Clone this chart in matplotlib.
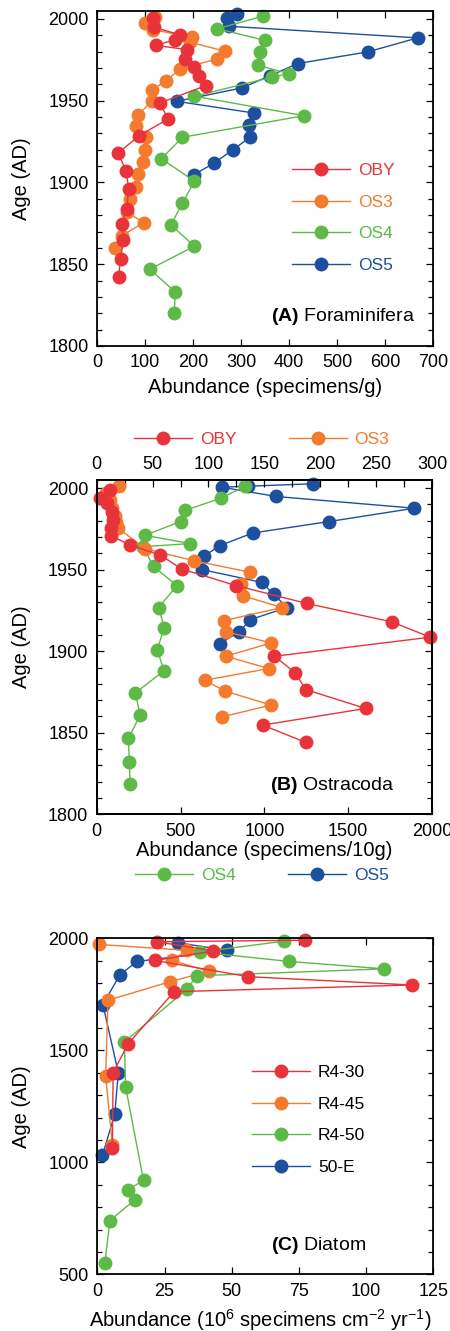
import matplotlib
matplotlib.use('Agg')
from matplotlib import pyplot as plt
from matplotlib.ticker import MultipleLocator

plt.rcParams['font.family'] = ['Liberation Sans', 'DejaVu Sans']
plt.rcParams['mathtext.fontset'] = 'custom'
plt.rcParams['mathtext.rm'] = 'Liberation Sans'
plt.rcParams['mathtext.bf'] = 'Liberation Sans:bold'
plt.rcParams['mathtext.it'] = 'Liberation Sans:italic'

RED = '#E8333A'
ORANGE = '#F47A2E'
GREEN = '#5DBA47'
BLUE = '#1D4F9F'

# ---- (A) Foraminifera, specimens/g ----
age_oby_a = [2000.6, 1994.9, 1990.3, 1987.3, 1983.8, 1981.2, 1975.6, 1970.4, 1965.0, 1959.2, 1948.6,
             1938.8, 1928.6, 1918.0, 1906.7, 1895.9, 1884.0, 1874.6, 1864.6, 1853.4, 1842.4]
oby_a = [116, 118, 173, 162, 123, 187, 184, 203, 213, 227, 131,
         148, 88, 44, 61, 66, 62, 52, 55, 49, 45]
age_os3_a = [2001.3, 1997.6, 1993.5, 1988.7, 1985.7, 1980.2, 1975.5, 1969.4, 1962.2, 1956.3, 1949.6, 1941.4,
             1934.3, 1927.6, 1920.0, 1912.2, 1905.3, 1897.5, 1889.6, 1882.0, 1875.4, 1867.4, 1860.0]
os3_a = [121, 99, 116, 198, 194, 267, 250, 173, 144, 114, 114, 86,
         82, 102, 100, 96, 86, 81, 69, 62, 97, 52, 38]
age_os4_a = [2001.6, 1994.0, 1986.9, 1979.8, 1971.6, 1966.5, 1964.3, 1952.7, 1940.8, 1927.6, 1914.5,
             1900.8, 1887.4, 1874.0, 1861.0, 1847.0, 1833.0, 1820.0]
os4_a = [345, 251, 349, 340, 336, 399, 364, 203, 431, 178, 134,
         203, 178, 154, 203, 110, 163, 161]
age_os5_a = [2002.7, 2000.6, 1995.5, 1988.4, 1979.8, 1972.7, 1965.3, 1957.8, 1949.6, 1942.4, 1935.3,
             1927.6, 1920.0, 1911.8, 1904.8]
os5_a = [291, 270, 274, 668, 564, 418, 361, 302, 166, 328, 316,
         319, 283, 244, 202]

# ---- (B) Ostracoda: OBY, OS3 on top axis; OS4, OS5 on bottom axis (specimens/10g) ----
age_oby_b = [1998.8, 1994.1, 1990.6, 1985.5, 1980.4, 1975.3, 1970.8, 1965.0, 1959.0, 1950.4,
             1940.2, 1929.3, 1918.0, 1908.6, 1896.9, 1886.9, 1876.5, 1864.9, 1854.7, 1844.1]
oby_b = [12, 3, 9, 13.5, 15, 13, 13, 30, 57, 76,
         125, 188, 264, 298.5, 159, 177.6, 187, 240.6, 148.5, 187]
age_os3_b = [2001.3, 1997.0, 1993.0, 1988.0, 1983.0, 1979.0, 1975.3, 1962.8, 1955.5, 1948.4, 1941.2,
             1934.0, 1926.8, 1918.8, 1912.0, 1905.1, 1896.9, 1889.4, 1882.2, 1875.5, 1867.0, 1859.8]
os3_b = [20, 8, 12, 14, 16, 17, 19.5, 43.5, 87, 137.4, 129,
         130.5, 166, 114, 115.5, 156, 115.5, 154, 96.6, 115, 156, 112.5]
age_os4_b = [2001.2, 1993.8, 1986.4, 1979.5, 1971.1, 1966.0, 1964.1, 1952.0, 1940.2, 1926.8, 1914.5,
             1901.0, 1888.0, 1874.5, 1860.8, 1846.5, 1831.8, 1818.6]
os4_b = [885, 740, 528, 500, 288, 558, 275, 339, 479, 369, 403,
         361, 401, 231, 259, 189, 195, 199]
age_os5_b = [2002.7, 2001.2, 2000.6, 1994.9, 1987.7, 1979.5, 1972.5, 1964.8, 1958.2, 1950.0, 1942.2,
             1935.0, 1926.8, 1919.3, 1911.9, 1904.7]
os5_b = [1291, 905, 745, 1069, 1895, 1385, 931, 735, 639, 631, 985,
         1055, 1135, 915, 851, 735]

# ---- (C) Diatom, 10^6 specimens cm-2 yr-1 ----
age_r430 = [1992, 1985, 1944, 1901.5, 1829, 1792, 1762, 1530, 1401, 1064]
r430 = [77.2, 22.2, 43.2, 21.6, 56.2, 117.0, 28.6, 11.5, 5.9, 5.6]
age_r445 = [1973, 1947, 1901.5, 1853, 1806, 1724, 1386, 1079]
r445 = [0.6, 33.3, 27.8, 41.4, 26.9, 4.0, 3.1, 5.6]
age_r450 = [1988, 1939, 1897, 1864, 1833, 1773, 1538, 1338, 919, 878, 833, 740, 549]
r450 = [69.6, 38.3, 71.4, 106.8, 37.0, 33.3, 10.1, 10.5, 17.2, 11.4, 14.0, 4.7, 2.8]
age_50e = [1980, 1947, 1897, 1838, 1704, 1401, 1215, 1031]
e50 = [30.2, 48.1, 14.8, 8.4, 2.1, 7.8, 6.5, 1.9]

W, H = 450.0, 1331.0
fig = plt.figure(figsize=(4.5, 13.31), dpi=100)

line_kw = dict(marker='o', markersize=9, linewidth=1.0, clip_on=False)
tick_fs = 13
lab_fs = 14.5
leg_fs = 12.5


def box(left, top, right, bottom):
    return [left / W, 1 - bottom / H, (right - left) / W, (bottom - top) / H]


def style(ax, top=True, bottom=True):
    for s in ax.spines.values():
        s.set_linewidth(1.3)
    ax.tick_params(which='both', direction='in', top=top, bottom=bottom, left=True, right=True,
                   labelsize=tick_fs, width=0.9)
    ax.tick_params(which='major', length=5, pad=6)
    ax.tick_params(which='minor', length=3.5)


def legend(ax, handles, labels, x, y, ncol=1, colored=True):
    lg = ax.legend(handles, labels, loc='upper left', bbox_to_anchor=(x, y), ncol=ncol,
                   frameon=False, fontsize=leg_fs, handlelength=3.35, handletextpad=0.45,
                   labelspacing=0.95, borderpad=0, borderaxespad=0, columnspacing=3.0)
    if colored:
        for t, h in zip(lg.get_texts(), handles):
            t.set_color(h.get_color())
    return lg


# panel A
axA = fig.add_axes(box(97, 10.7, 433, 346))
lb5, = axA.plot(os5_a, age_os5_a, color=BLUE, **line_kw)
lg4, = axA.plot(os4_a, age_os4_a, color=GREEN, **line_kw)
lo3, = axA.plot(os3_a, age_os3_a, color=ORANGE, **line_kw)
lr, = axA.plot(oby_a, age_oby_a, color=RED, **line_kw)
axA.set_xlim(0, 700)
axA.set_ylim(1800, 2005)
axA.xaxis.set_major_locator(MultipleLocator(100))
axA.yaxis.set_major_locator(MultipleLocator(50))
axA.yaxis.set_minor_locator(MultipleLocator(10))
style(axA)
axA.set_xlabel('Abundance (specimens/g)', fontsize=lab_fs, va='center')
axA.xaxis.set_label_coords(0.5, -0.125)
axA.set_ylabel('Age (AD)', fontsize=lab_fs, va='center')
axA.yaxis.set_label_coords(-0.224, 0.5)
legend(axA, [lr, lo3, lg4, lb5], ['OBY', 'OS3', 'OS4', 'OS5'], 0.580, 0.546)
axA.text(0.517, 0.087, r'$\mathbf{(A)}$ Foraminifera', transform=axA.transAxes,
         fontsize=14, va='center', ha='left')

# panel B
axB = fig.add_axes(box(96.7, 480, 432, 814.3))
lb5b, = axB.plot(os5_b, age_os5_b, color=BLUE, **line_kw)
lg4b, = axB.plot(os4_b, age_os4_b, color=GREEN, **line_kw)
axB.set_xlim(0, 2000)
axB.set_ylim(1800, 2005)
axB.xaxis.set_major_locator(MultipleLocator(500))
axB.yaxis.set_major_locator(MultipleLocator(50))
axB.yaxis.set_minor_locator(MultipleLocator(10))
style(axB, top=False)
axB.set_xlabel('Abundance (specimens/10g)', fontsize=lab_fs, va='center')
axB.xaxis.set_label_coords(0.5, -0.107)
axB.set_ylabel('Age (AD)', fontsize=lab_fs, va='center')
axB.yaxis.set_label_coords(-0.224, 0.5)
axBt = axB.twiny()
lo3b, = axBt.plot(os3_b, age_os3_b, color=ORANGE, **line_kw)
lrb, = axBt.plot(oby_b, age_oby_b, color=RED, **line_kw)
axBt.set_xlim(0, 300)
axBt.xaxis.set_major_locator(MultipleLocator(50))
axBt.xaxis.set_minor_locator(MultipleLocator(25))
axBt.tick_params(which='both', direction='in', top=True, bottom=False, labeltop=True,
                 labelbottom=False, labelsize=tick_fs, width=0.9)
axBt.tick_params(which='major', length=5, pad=5)
axBt.tick_params(which='minor', length=5)
for s in axBt.spines.values():
    s.set_linewidth(1.3)
legend(axBt, [lrb, lo3b], ['OBY', 'OS3'], 0.111, 1.1436, ncol=2)
legend(axB, [lg4b, lb5b], ['OS4', 'OS5'], 0.114, -0.1606, ncol=2)
axBt.text(0.517, 0.0855, r'$\mathbf{(B)}$ Ostracoda', transform=axB.transAxes,
          fontsize=14, va='center', ha='left')

# panel C
axC = fig.add_axes(box(97.3, 938.4, 433.3, 1274.3))
l50e, = axC.plot(e50, age_50e, color=BLUE, **line_kw)
l445, = axC.plot(r445, age_r445, color=ORANGE, **line_kw)
l450, = axC.plot(r450, age_r450, color=GREEN, **line_kw)
l430, = axC.plot(r430, age_r430, color=RED, **line_kw)
axC.set_xlim(0, 125)
axC.set_ylim(500, 2000)
axC.xaxis.set_major_locator(MultipleLocator(25))
axC.yaxis.set_major_locator(MultipleLocator(500))
axC.yaxis.set_minor_locator(MultipleLocator(100))
style(axC)
axC.set_xlabel(r'Abundance (10$^{6}$ specimens cm$^{-2}$ yr$^{-1}$)', fontsize=lab_fs, va='center')
axC.xaxis.set_label_coords(0.485, -0.136)
axC.set_ylabel('Age (AD)', fontsize=lab_fs, va='center')
axC.yaxis.set_label_coords(-0.226, 0.5)
legend(axC, [l430, l445, l450, l50e], ['R4-30', 'R4-45', 'R4-50', '50-E'], 0.460, 0.623,
       colored=False)
axC.text(0.517, 0.087, r'$\mathbf{(C)}$ Diatom', transform=axC.transAxes,
         fontsize=14, va='center', ha='left')

plt.savefig('out.png', dpi=100)
